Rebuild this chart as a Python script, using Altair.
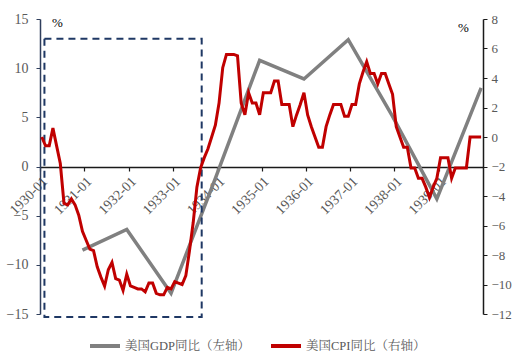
import altair as alt
import pandas as pd

FONT = "Times New Roman, Liberation Serif, Noto Serif CJK SC, Noto Sans CJK SC"
GDP_LABEL = "美国GDP同比（左轴）"
CPI_LABEL = "美国CPI同比（右轴）"

years = list(range(1930, 1940))
gdp_yoy = [-8.5, -6.4, -12.9, -1.2, 10.8, 8.9, 12.9, 5.1, -3.3, 8.0]

cpi_1930 = [0.0, -0.6, -0.6, 0.6, -0.6, -1.8, -4.5, -4.6, -4.2, -4.6, -5.3, -6.4]
cpi_1931 = [-7.0, -7.6, -7.7, -8.8, -9.5, -10.1, -9.0, -8.5, -9.6, -9.7, -10.4, -9.3]
cpi_1932 = [-10.1, -10.2, -10.3, -10.3, -10.5, -9.9, -9.9, -10.6, -10.7, -10.7, -10.2, -10.3]
cpi_1933 = [-9.8, -9.9, -10.0, -9.4, -7.7, -5.8, -3.4, -2.1, -1.4, -0.8, 0.0, 0.8]
cpi_1934 = [2.3, 4.7, 5.6, 5.6, 5.6, 5.5, 2.3, 1.5, 3.0, 2.3, 2.3, 1.5]
cpi_1935 = [3.0, 3.0, 3.0, 3.8, 3.8, 2.2, 2.2, 2.2, 0.7, 1.5, 2.2, 3.0]
cpi_1936 = [1.5, 0.7, 0.0, -0.7, -0.7, 0.7, 1.5, 2.2, 2.2, 2.2, 1.4, 1.4]
cpi_1937 = [2.2, 2.2, 3.6, 4.4, 5.1, 4.3, 4.3, 3.6, 4.3, 4.3, 3.6, 2.9]
cpi_1938 = [0.7, 0.0, -0.7, -0.7, -2.1, -2.1, -2.8, -2.8, -3.4, -4.1, -3.4, -2.8]
cpi_1939 = [-1.4, -1.4, -1.4, -2.8, -2.1, -2.1, -2.1, -2.1, 0.0, 0.0, 0.0, 0.0]
cpi_yoy = (cpi_1930 + cpi_1931 + cpi_1932 + cpi_1933 + cpi_1934 +
           cpi_1935 + cpi_1936 + cpi_1937 + cpi_1938 + cpi_1939)

# highlighted period (dashed box): start/end in years, top/bottom on left axis
box_x = [1930.1, 1933.65]
box_y = [13.0, -15.3]

left_ticks = [-15, -10, -5, 0, 5, 10, 15]
right_ticks = [-12, -10, -8, -6, -4, -2, 0, 2, 4, 6, 8]

months = pd.date_range("1930-01-01", periods=len(cpi_yoy), freq="MS")
cpi_df = pd.DataFrame({
    "t": [m.year + (m.month - 0.5) / 12 for m in months],
    "v": cpi_yoy,
    "s": CPI_LABEL,
})
gdp_df = pd.DataFrame({
    "t": [y + 11.5 / 12 for y in years],
    "v": gdp_yoy,
    "s": GDP_LABEL,
})
box_df = pd.DataFrame({"x1": [box_x[0]], "x2": [box_x[1]], "y1": [box_y[0]], "y2": [box_y[1]]})

xscale = alt.Scale(domain=[1930, 1940], nice=False, zero=False)
xaxis = alt.Axis(
    values=years, labelExpr="datum.value + '-01'", labelAngle=-45,
    offset=-147, grid=False, domainColor="#1a1a1a", domainWidth=1.5,
    tickColor="#1a1a1a", tickSize=4, tickWidth=1.2,
    labelFont=FONT, labelFontSize=14, labelColor="#595959",
    labelPadding=3, title=None,
)

color = alt.Color(
    "s:N",
    scale=alt.Scale(domain=[GDP_LABEL, CPI_LABEL], range=["#808080", "#C00000"]),
    legend=alt.Legend(
        orient="none", direction="horizontal", legendX=48, legendY=310,
        title=None, symbolType="stroke", symbolSize=900, symbolStrokeWidth=4,
        labelFont=FONT, labelFontSize=12.5, labelColor="#595959",
        columnPadding=12, labelOffset=3, padding=0,
    ),
)

gdp_line = alt.Chart(gdp_df).mark_line(strokeWidth=3.5).encode(
    x=alt.X("t:Q", scale=xscale, axis=xaxis),
    y=alt.Y("v:Q", scale=alt.Scale(domain=[-15, 15], nice=False),
            axis=alt.Axis(values=left_ticks, grid=False, orient="left",
                          domainColor="#2F3E5C", domainWidth=1.5,
                          tickColor="#2F3E5C", tickSize=4,
                          labelFont=FONT, labelFontSize=14, labelColor="#595959",
                          labelPadding=8,
                          title="%", titleAngle=0, titleX=17, titleY=3,
                          titleFont=FONT, titleFontSize=13, titleFontWeight="normal",
                          titleColor="#000000", titleAlign="center", titleBaseline="middle")),
    color=color,
)

box = alt.Chart(box_df).mark_rect(
    fillOpacity=0, stroke="#1F3864", strokeWidth=2, strokeDash=[7, 5]
).encode(
    x=alt.X("x1:Q", scale=xscale),
    x2="x2:Q",
    y=alt.Y("y1:Q", scale=alt.Scale(domain=[-15, 15], nice=False), axis=None),
    y2="y2:Q",
)

cpi_line = alt.Chart(cpi_df).mark_line(strokeWidth=3).encode(
    x=alt.X("t:Q", scale=xscale),
    y=alt.Y("v:Q", scale=alt.Scale(domain=[-12, 8], nice=False),
            axis=alt.Axis(values=right_ticks, grid=False, orient="right",
                          domainColor="#1a1a1a", domainWidth=1.5,
                          tickColor="#1a1a1a", tickSize=4,
                          labelFont=FONT, labelFontSize=13, labelColor="#595959",
                          labelPadding=4,
                          title="%", titleAngle=0, titleX=-20, titleY=8,
                          titleFont=FONT, titleFontSize=13, titleFontWeight="normal",
                          titleColor="#000000", titleAlign="center", titleBaseline="middle")),
    color=color,
)

chart = alt.layer(gdp_line, box, cpi_line).resolve_scale(
    y="independent"
).properties(
    width=443, height=295,
    autosize=alt.AutoSizeParams(type="none"),
    padding={"left": 40, "top": 19, "right": 29, "bottom": 38},
    background="white",
).configure_view(stroke=None)

chart.save("out.html", embed_options={"renderer": "svg", "actions": False})
